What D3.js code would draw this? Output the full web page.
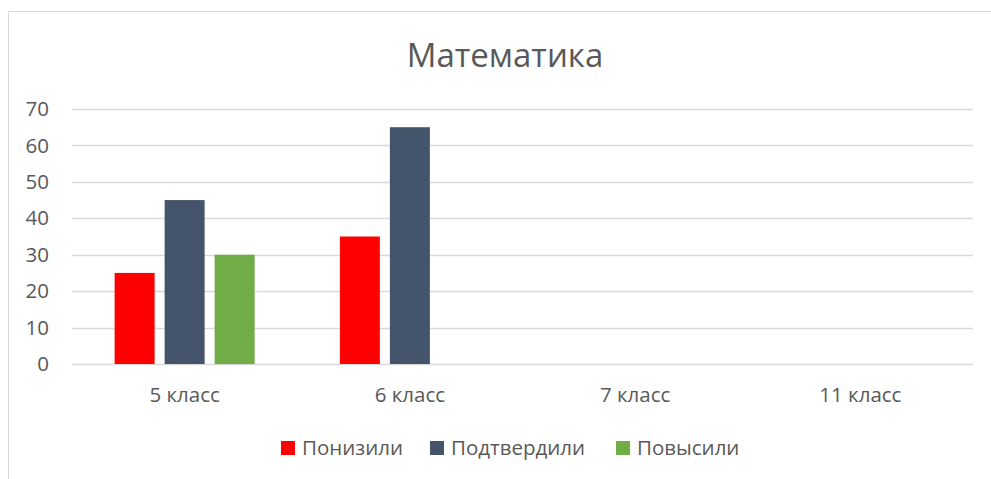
<!DOCTYPE html>
<html>
<head>
<meta charset="utf-8">
<script src="https://cdn.jsdelivr.net/npm/d3@7"></script>
<style>
  body { margin: 0; background: #fff; }
  text { font-family: "Open Sans", "Liberation Sans", sans-serif; fill: #595959; }
</style>
</head>
<body>
<div id="chart"></div>
<script>
const w = 991;
const h = 479;

const TITLE = "Математика";
const categories = ["5 класс", "6 класс", "7 класс", "11 класс"];
const seriesNames = ["Понизили", "Подтвердили", "Повысили"];
const seriesColors = ["#FF0000", "#44546A", "#70AD47"];
const lowered = [25, 35, 0, 0];
const confirmed = [45, 65, 0, 0];
const raised = [30, 0, 0, 0];
const yTicks = [0, 10, 20, 30, 40, 50, 60, 70];

const seriesValues = [lowered, confirmed, raised];

const svg = d3.select("#chart").append("svg").attr("width", w).attr("height", h);

// chart frame
svg.append("rect")
    .attr("x", 8.5).attr("y", 11.5)
    .attr("width", 1000).attr("height", 500)
    .attr("fill", "none").attr("stroke", "#D9D9D9");

const margin = { left: 72, right: 18, top: 109, bottom: 115 };

const x0 = d3.scaleBand().domain(categories).range([margin.left, w - margin.right]);
const x1 = d3.scaleBand().domain(seriesNames).range([x0.bandwidth() / 2 - 70, x0.bandwidth() / 2 + 70]).paddingInner(0.2);
const y = d3.scaleLinear().domain([0, 70]).range([h - margin.bottom, margin.top]);

// title
svg.append("text")
    .attr("x", 505).attr("y", 67)
    .attr("text-anchor", "middle")
    .style("font-size", "33px")
    .text(TITLE);

// gridlines
svg.append("g")
    .selectAll("line")
    .data(yTicks)
    .enter().append("line")
    .attr("x1", margin.left).attr("x2", w - margin.right)
    .attr("y1", d => Math.round(y(d)) + 0.5).attr("y2", d => Math.round(y(d)) + 0.5)
    .attr("stroke", "#D9D9D9").attr("stroke-width", 1.5);

// y labels
svg.append("g")
    .selectAll("text")
    .data(yTicks)
    .enter().append("text")
    .attr("x", 49).attr("y", d => y(d))
    .attr("dy", "0.35em")
    .attr("text-anchor", "end")
    .style("font-size", "20.5px")
    .text(d => d);

// bars
const groups = svg.append("g")
    .selectAll("g")
    .data(categories)
    .enter().append("g")
    .attr("transform", d => "translate(" + x0(d) + ",0)");

groups.selectAll("rect")
    .data((c, ci) => seriesNames.map((s, si) => ({ s: s, si: si, v: seriesValues[si][ci] })))
    .enter().append("rect")
    .attr("x", d => x1(d.s))
    .attr("width", x1.bandwidth())
    .attr("y", d => y(d.v))
    .attr("height", d => y(0) - y(d.v))
    .attr("fill", d => seriesColors[d.si]);

// category labels
svg.append("g")
    .selectAll("text")
    .data(categories)
    .enter().append("text")
    .attr("x", d => x0(d) + x0.bandwidth() / 2)
    .attr("y", 402)
    .attr("text-anchor", "middle")
    .style("font-size", "20.5px")
    .text(d => d);

// legend
const legendX = [281, 430, 616];
const legend = svg.append("g")
    .selectAll("g")
    .data(seriesNames)
    .enter().append("g")
    .attr("transform", (d, i) => "translate(" + legendX[i] + ",441)");

legend.append("rect")
    .attr("width", 14).attr("height", 14)
    .attr("fill", (d, i) => seriesColors[i]);

legend.append("text")
    .attr("x", 21).attr("y", 7)
    .attr("dy", "0.35em")
    .style("font-size", "20.5px")
    .text(d => d);
</script>
</body>
</html>
